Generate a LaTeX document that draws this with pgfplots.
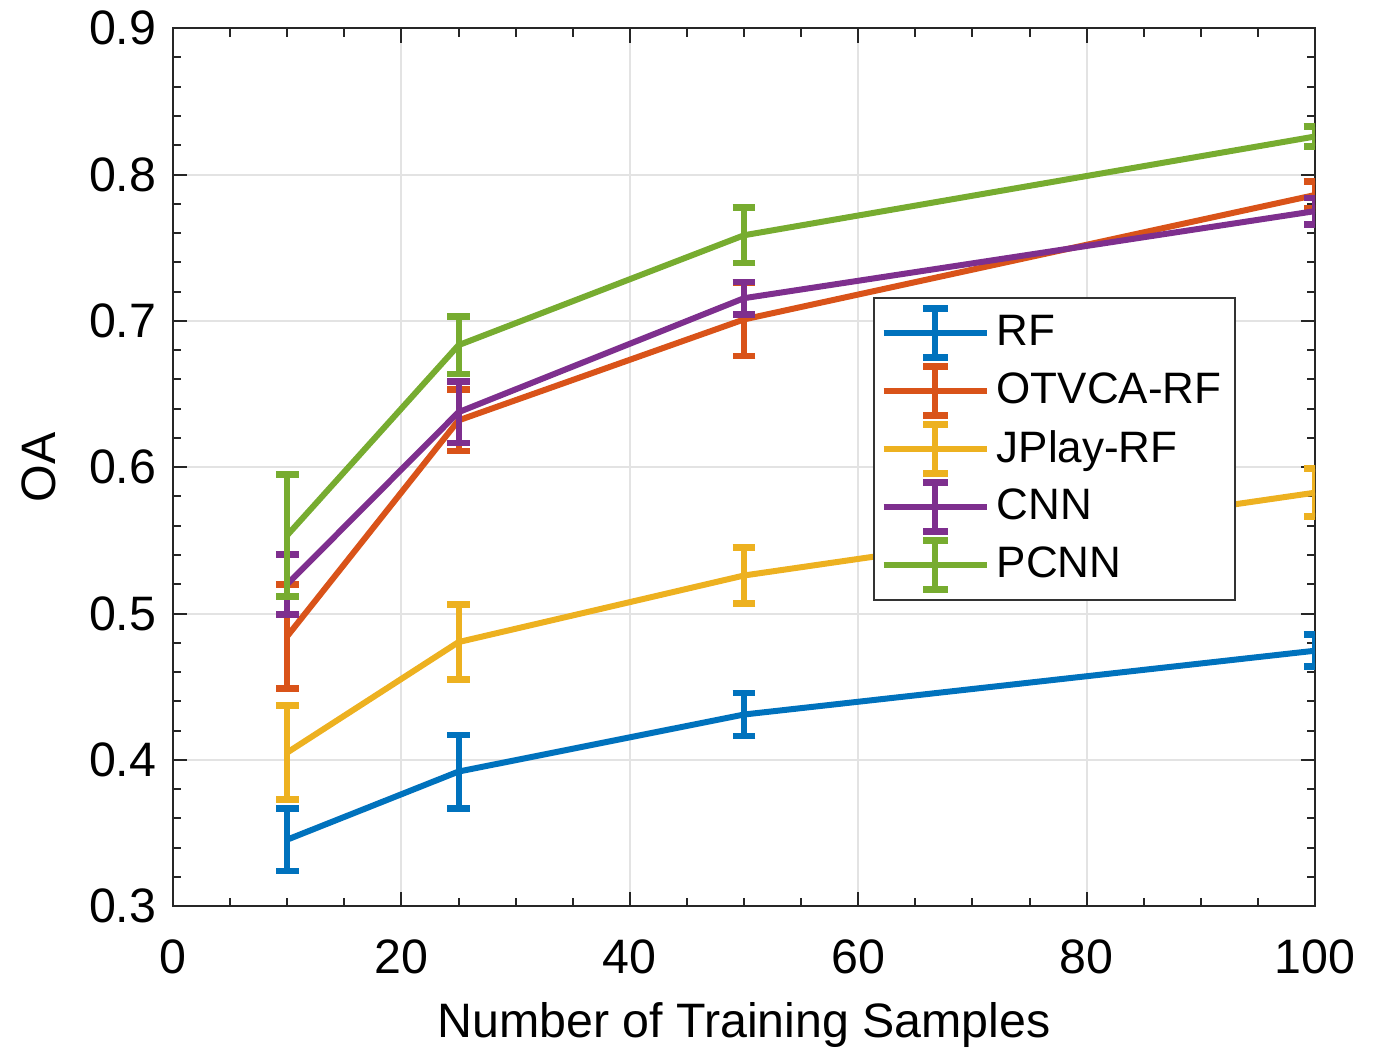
\documentclass[border=0pt]{standalone}
\usepackage{pgfplots}
\pgfplotsset{compat=1.18}
\usepackage{fontspec}
\setmainfont{Liberation Sans}

\definecolor{mblue}{rgb}{0,0.447,0.741}
\definecolor{morange}{rgb}{0.85,0.325,0.098}
\definecolor{myellow}{rgb}{0.929,0.694,0.125}
\definecolor{mpurple}{rgb}{0.494,0.184,0.556}
\definecolor{mgreen}{rgb}{0.466,0.674,0.188}

\pgfplotsset{
    ebar/.style={
        line width=1.8pt, mark=none,
        error bars/y dir=both,
        error bars/y explicit,
        error bars/error bar style={line width=1.8pt},
        error bars/error mark options={rotate=90, mark size=3.4pt, line width=2pt},
    },
    ebarlegend/.style={
        legend image code/.code={
            \draw[line width=1.8pt] (0pt,0pt) -- (31pt,0pt);
            \draw[line width=1.8pt] (15.5pt,-7.4pt) -- (15.5pt,7.4pt);
            \draw[line width=2pt] (11.8pt,-7.4pt) -- (19.2pt,-7.4pt);
            \draw[line width=2pt] (11.8pt,7.4pt) -- (19.2pt,7.4pt);
        }
    }
}

\begin{document}
\begin{tikzpicture}
\begin{axis}[
    name=ax,
    scale only axis,
    width=342.6pt, height=263.4pt,
    xmin=0, xmax=100, ymin=0.3, ymax=0.9,
    xtick={0,20,...,100},
    ytick={0.3,0.4,...,0.9},
    minor x tick num=3,
    minor y tick num=4,
    tick align=inside,
    major tick length=4.3pt,
    minor tick length=2.5pt,
    axis line style={black!85, line width=0.6pt},
    every tick/.style={black!85, line width=0.6pt},
    grid=major,
    major grid style={gray!22, line width=0.6pt},
    font=\fontsize{14.5}{17}\selectfont,
    /pgf/number format/assume math mode=true,
    yticklabel style={xshift=-1.5pt, /pgf/number format/fixed, /pgf/number format/precision=1, /pgf/number format/fixed zerofill},
    xticklabel style={yshift=-6.6pt},
    xlabel style={yshift=-1.5pt},
    ylabel style={yshift=3pt},
    xlabel={Number of Training Samples},
    ylabel={OA},
    legend style={
        at={(0.613,0.6936)}, anchor=north west,
        draw=black!80, line width=0.6pt,
        font=\fontsize{13.2}{15}\selectfont,
        row sep=0.6pt, inner sep=2pt,
    },
    legend cell align=left,
]
\addplot[color=mblue, ebar, ebarlegend] coordinates {
    (10,0.3455) +- (0,0.0215)
    (25,0.392) +- (0,0.025)
    (50,0.431) +- (0,0.0147)
    (100,0.4746) +- (0,0.011)
};
\addlegendentry{RF}
\addplot[color=morange, ebar, ebarlegend] coordinates {
    (10,0.4845) +- (0,0.0355)
    (25,0.632) +- (0,0.021)
    (50,0.701) +- (0,0.025)
    (100,0.786) +- (0,0.0094)
};
\addlegendentry{OTVCA-RF}
\addplot[color=myellow, ebar, ebarlegend] coordinates {
    (10,0.405) +- (0,0.032)
    (25,0.4805) +- (0,0.0255)
    (50,0.526) +- (0,0.019)
    (100,0.5826) +- (0,0.0165)
};
\addlegendentry{JPlay-RF}
\addplot[color=mpurple, ebar, ebarlegend] coordinates {
    (10,0.520) +- (0,0.0205)
    (25,0.6376) +- (0,0.021)
    (50,0.7155) +- (0,0.011)
    (100,0.775) +- (0,0.009)
};
\addlegendentry{CNN}
\addplot[color=mgreen, ebar, ebarlegend] coordinates {
    (10,0.5535) +- (0,0.0417)
    (25,0.6834) +- (0,0.0197)
    (50,0.7585) +- (0,0.019)
    (100,0.826) +- (0,0.0068)
};
\addlegendentry{PCNN}
\end{axis}
\path[use as bounding box] ([xshift=-51.9pt,yshift=-43.2pt]ax.south west) rectangle ([xshift=19.8pt,yshift=8.1pt]ax.north east);
\end{tikzpicture}
\end{document}
